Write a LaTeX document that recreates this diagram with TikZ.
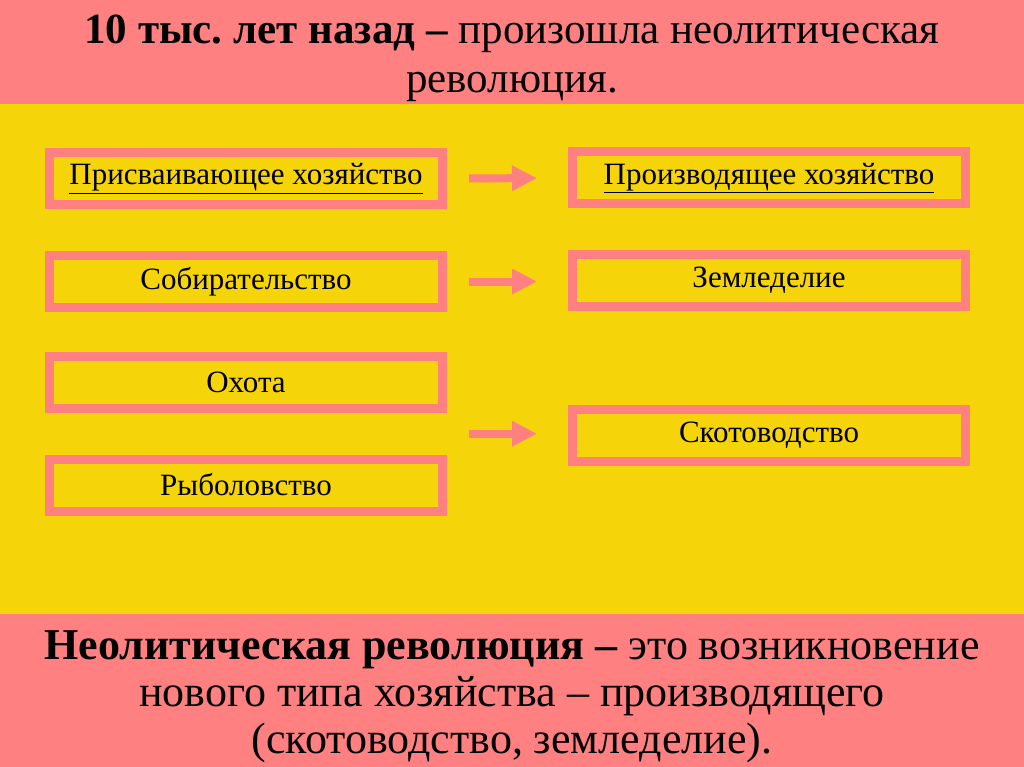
\documentclass[tikz,border=0pt]{standalone}
\usepackage{fontspec}
\setmainfont{Liberation Serif}
\usetikzlibrary{arrows.meta,calc}
\definecolor{bandpink}{RGB}{255,128,128}
\definecolor{fieldyellow}{RGB}{245,212,10}
\frenchspacing

\begin{document}
\begin{tikzpicture}[x=1pt,y=-1pt,
  box/.style={draw=bandpink, line width=9pt, fill=fieldyellow, inner sep=0pt,
    minimum width=393pt, minimum height=52pt, font=\fontsize{31}{31}\selectfont},
  trans/.style={draw=bandpink, line width=8pt, -{Triangle[width=24pt,length=25pt]},
    shorten <=22pt, shorten >=31pt}]
  \def\lx{246}
  \def\rx{769}
    % bands
    \fill[bandpink] (0,0) rectangle (1024,104);
    \fill[fieldyellow] (0,104) rectangle (1024,614);
    \fill[bandpink] (0,614) rectangle (1024,767);
    % title
    \node[align=center, anchor=north, inner sep=0pt, font=\fontsize{43}{49}\selectfont] (title) at (512,15)
      {\textbf{10 тыс. лет назад –} произошла неолитическая\\революция.};
    % left column
    \node[box] (gather0) at (\lx,178.5) {\underline{Присваивающее хозяйство}};
    \node[box] (gather) at (\lx,281.5) {Собирательство};
    \node[box] (hunt) at (\lx,382.5) {Охота};
    \node[box] (fish) at (\lx,485) {Рыболовство};
    % right column
    \node[box] (produce0) at (\rx,178) {\underline{Производящее хозяйство}};
    \node[box] (farm) at (\rx,280) {Земледелие};
    \node[box] (cattle) at (\rx,435.5) {Скотоводство};
    % arrows
    \draw[trans] (gather0.east) -- (produce0.west);
    \draw[trans] (gather.east) -- (gather.east -| farm.west);
    \coordinate (mid) at ($(hunt.south east)!0.5!(fish.north east)$);
    \draw[trans] (mid) -- (mid -| cattle.west);
    % definition
    \node[align=center, anchor=north, inner sep=0pt, font=\fontsize{44}{47}\selectfont] (def) at (512,630)
      {\textbf{Неолитическая революция –} это возникновение\\нового типа хозяйства – производящего\\(скотоводство, земледелие).};
\end{tikzpicture}
\end{document}
